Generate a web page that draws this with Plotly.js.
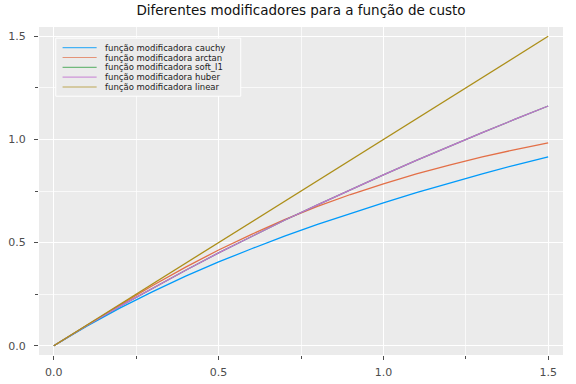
<!DOCTYPE html>
<html>
<head>
<meta charset="utf-8">
<script src="https://cdn.plot.ly/plotly-3.0.1.min.js"></script>
<style>html,body{margin:0;padding:0;background:#fff;}#chart{width:576px;height:384px;}</style>
</head>
<body>
<div id="chart"></div>
<script>
const xValues = [0, 0.1, 0.2, 0.3, 0.4, 0.5, 0.6, 0.7, 0.8, 0.9, 1.0, 1.1, 1.2, 1.3, 1.4, 1.5];
const cauchy = [0, 0.095, 0.182, 0.262, 0.337, 0.406, 0.470, 0.531, 0.588, 0.642, 0.693, 0.742, 0.789, 0.833, 0.876, 0.916];
const arctan = [0, 0.100, 0.197, 0.292, 0.381, 0.464, 0.540, 0.611, 0.675, 0.733, 0.785, 0.833, 0.876, 0.915, 0.951, 0.983];
const softL1 = [0, 0.098, 0.191, 0.280, 0.366, 0.450, 0.530, 0.608, 0.683, 0.757, 0.828, 0.898, 0.966, 1.033, 1.098, 1.162];
const huber  = [0, 0.098, 0.191, 0.280, 0.366, 0.450, 0.530, 0.608, 0.683, 0.757, 0.828, 0.898, 0.966, 1.033, 1.098, 1.162];
const linear = [0, 0.1, 0.2, 0.3, 0.4, 0.5, 0.6, 0.7, 0.8, 0.9, 1.0, 1.1, 1.2, 1.3, 1.4, 1.5];

const seriesNames = ["função modificadora cauchy", "função modificadora arctan", "função modificadora soft_l1", "função modificadora huber", "função modificadora linear"];
const seriesValues = [cauchy, arctan, softL1, huber, linear];
const seriesColors = ["#009AFA", "#E36F47", "#3EA44E", "#C371D2", "#AC8E18"];
const tickVals = [0, 0.5, 1.0, 1.5];
const tickText = ["0.0", "0.5", "1.0", "1.5"];

const traces = seriesValues.map((vals, i) => ({
  x: xValues, y: vals, type: "scatter", mode: "lines",
  name: seriesNames[i], line: {color: seriesColors[i], width: 1.3}, showlegend: false
}));

// custom legend (compact rows like the reference)
const shapes = [{
  type: "rect", xref: "paper", yref: "paper",
  x0: 0.032, x1: 0.385, y0: 0.789, y1: 0.966,
  line: {color: "#ffffff", width: 1}, fillcolor: "#EBEBEB", layer: "above"
}];
const annotations = [];
seriesNames.forEach((nm, i) => {
  const yy = 0.937 - i * 0.0300;
  shapes.push({type: "line", xref: "paper", yref: "paper", x0: 0.045, x1: 0.110, y0: yy, y1: yy,
    line: {color: seriesColors[i], width: 1.2}, opacity: 0.7, layer: "above"});
  annotations.push({xref: "paper", yref: "paper", x: 0.122, y: yy, xanchor: "left", yanchor: "middle",
    text: nm, showarrow: false, font: {family: "DejaVu Sans", size: 8.5, color: "#222"}});
});

const axisCommon = {
  range: [-0.045, 1.545], tickvals: tickVals, ticktext: tickText,
  showgrid: true, gridcolor: "#ffffff", gridwidth: 1.2, zeroline: false,
  ticks: "outside", ticklen: 4, tickcolor: "#4d4d4d", tickwidth: 1,
  tickfont: {family: "DejaVu Sans", size: 11, color: "#4d4d4d"},
  showline: false,
  minor: {tickvals: [0.25, 0.75, 1.25], ticks: "outside", ticklen: 3, tickcolor: "#4d4d4d",
          showgrid: true, gridcolor: "#ffffff", gridwidth: 0.7}
};

const layout = {
  width: 576, height: 384,
  margin: {l: 39, r: 13, t: 27, b: 29},
  paper_bgcolor: "#ffffff", plot_bgcolor: "#EBEBEB",
  title: {text: "Diferentes modificadores para a função de custo", x: 0.5, xref: "paper",
          y: 0.974, yanchor: "middle", font: {family: "DejaVu Sans", size: 13.5, color: "#111"}},
  xaxis: Object.assign({}, axisCommon, {ticklabelstandoff: 3}),
  yaxis: Object.assign({}, axisCommon, {ticklabelstandoff: 6}),
  showlegend: false,
  shapes: shapes, annotations: annotations
};

Plotly.newPlot("chart", traces, layout, {staticPlot: true, displayModeBar: false});
</script>
</body>
</html>
